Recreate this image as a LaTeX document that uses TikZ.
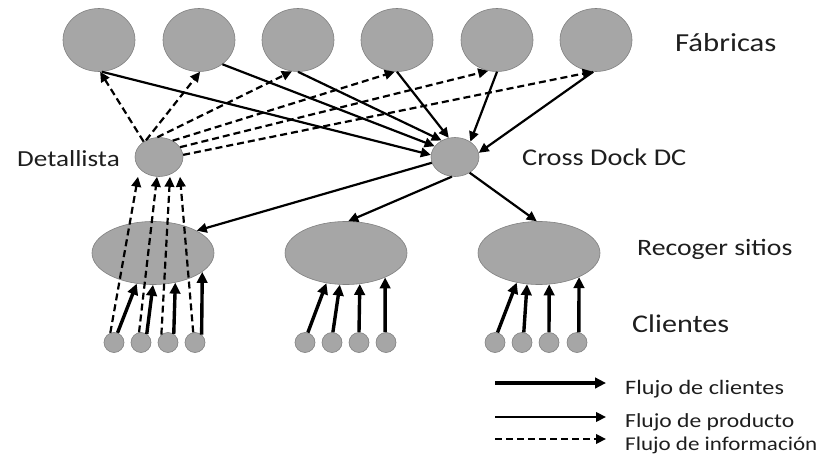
\documentclass[tikz,border=0pt]{standalone}
\usepackage{fontspec}
\newfontfamily\lblfont{Carlito}[FakeStretch=1.18]
\usetikzlibrary{arrows.meta,shapes.geometric}
\definecolor{nodefill}{RGB}{166,166,166}
\definecolor{nodeline}{RGB}{128,128,128}
\definecolor{inktext}{RGB}{30,30,30}

\begin{document}
\begin{tikzpicture}[x=1pt,y=-1pt,
  blob/.style={ellipse, draw=nodeline, line width=0.6pt, fill=nodefill, inner sep=0pt},
  plant/.style={blob, minimum width=72pt, minimum height=63pt},
  hub/.style={blob, minimum width=48pt, minimum height=39pt},
  pickup/.style={blob, minimum width=122pt, minimum height=63pt},
  client/.style={circle, draw=nodeline, line width=0.6pt, fill=nodefill, inner sep=0pt, minimum size=20pt},
  lbl/.style={anchor=base west, inner sep=0pt, text=inktext},
  custflow/.style={line width=3.4pt, -{Triangle[length=11pt,width=10.5pt]}},
  prodflow/.style={line width=2.2pt, -{Triangle[length=10pt,width=9.5pt]}},
  infoflow/.style={line width=2.2pt, dash pattern=on 7pt off 4pt, -{Triangle[length=10pt,width=9.5pt]}},
]
\useasboundingbox (0,0) rectangle (829,465);

% factories
\foreach \i/\x in {1/99,2/199,3/298,4/397,5/497,6/596}
  \node[plant] (f\i) at (\x,40) {};

% retailer and cross dock
\node[hub] (ret) at (159,157) {};
\node[hub] (cd) at (455,157) {};

% pickup sites
\node[pickup] (s1) at (153,253) {};
\node[pickup] (s2) at (346,253) {};
\node[pickup] (s3) at (539,253) {};

% customers
\foreach \i/\x in {1/114,2/141,3/168,4/195}
  \node[client] (c1\i) at (\x,342.5) {};
\foreach \i/\x in {1/305,2/332,3/359,4/386}
  \node[client] (c2\i) at (\x,342.5) {};
\foreach \i/\x in {1/495,2/522,3/549,4/577}
  \node[client] (c3\i) at (\x,342.5) {};

% labels
\node[lbl, font=\lblfont\fontsize{26}{30}\selectfont] (tfab) at (675,52) {Fábricas};
\node[lbl, font=\lblfont\fontsize{23}{27}\selectfont] (tret) at (17,167) {Detallista};
\node[lbl, font=\lblfont\fontsize{24}{28}\selectfont] (tcd) at (522,165) {Cross Dock DC};
\node[lbl, font=\lblfont\fontsize{23.5}{28}\selectfont] (tsit) at (637,255) {Recoger sitios};
\node[lbl, font=\lblfont\fontsize{25.5}{30}\selectfont] (tcli) at (632,332) {Clientes};

% product flow: factories to cross dock
\draw[prodflow] (f1.275) -- (cd.175);
\draw[prodflow] (f2.314) -- (cd.152);
\draw[prodflow] (f3.270) -- (cd.129);
\draw[prodflow] (f4.270) -- (cd.108);
\draw[prodflow] (f5.270) -- (cd.45);
\draw[prodflow] (f6.265) -- (cd.10);

% information flow: retailer to factories
\draw[infoflow] (ret.135) -- (f1.272);
\draw[infoflow] (ret.128) -- (f2.272);
\draw[infoflow] (ret.95) -- (f3.259);
\draw[infoflow] (ret.50) -- (f4.266);
\draw[infoflow] (ret.25) -- (f5.254);
\draw[infoflow] (ret.5) -- (f6.264);

% product flow: cross dock to pickup sites
\draw[prodflow] (cd.194) -- (s1.27.6);
\draw[prodflow] (cd.261) -- (s2.86);
\draw[prodflow] (cd.313) -- (s3.94);

% information flow: customers to retailer
\draw[infoflow] (c11.111) -- ([xshift=-21pt]ret.south);
\draw[infoflow] (c12.101) -- ([xshift=-2pt]ret.south);
\draw[infoflow] (c13.130) -- ([xshift=11pt]ret.south);
\draw[infoflow] (c14.100) -- ([xshift=21pt]ret.south);

% customer flow: customers to pickup sites
\draw[custflow] (c11.70) -- (s1.242);
\draw[custflow] (c12.56) -- (s1.270);
\draw[custflow] (c13.56) -- (s1.307);
\draw[custflow] (c14.50) -- (s1.339);

\draw[custflow] (c21.74) -- (s2.237.6);
\draw[custflow] (c22.85) -- (s2.259);
\draw[custflow] (c23.90) -- (s2.294.5);
\draw[custflow] (c24.95) -- (s2.328);

\draw[custflow] (c31.76) -- (s3.233);
\draw[custflow] (c32.80) -- (s3.249);
\draw[custflow] (c33.90) -- (s3.288);
\draw[custflow] (c34.80) -- (s3.329);

% legend
\coordinate (k1a) at (495,383); \coordinate (k1b) at (606,383);
\coordinate (k2a) at (495,417); \coordinate (k2b) at (606,417);
\coordinate (k3a) at (495,439); \coordinate (k3b) at (606,439);
\draw[custflow] (k1a) -- (k1b);
\draw[prodflow] (k2a) -- (k2b);
\draw[infoflow] (k3a) -- (k3b);
\node[lbl, font=\lblfont\fontsize{20.5}{24}\selectfont] (tk1) at (625,394) {Flujo de clientes};
\node[lbl, font=\lblfont\fontsize{20}{24}\selectfont] (tk2) at (625,427) {Flujo de producto};
\node[lbl, font=\lblfont\fontsize{19.5}{24}\selectfont] (tk3) at (625,450) {Flujo de información};
\end{tikzpicture}
\end{document}
